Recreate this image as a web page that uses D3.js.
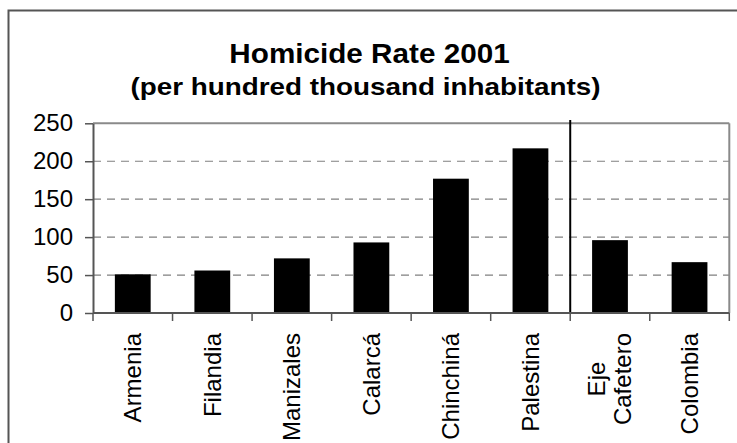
<!DOCTYPE html>
<html>
<head>
<meta charset="utf-8">
<script src="https://cdnjs.cloudflare.com/ajax/libs/d3/7.8.5/d3.min.js"></script>
<style>
  html, body { margin: 0; padding: 0; background: #fff; }
  svg { display: block; font-family: "Liberation Sans", Arial, sans-serif; }
</style>
</head>
<body>
<svg id="chart" width="737" height="443"></svg>
<script>
const categories = ["Armenia", "Filandia", "Manizales", "Calarcá", "Chinchiná", "Palestina", "Eje Cafetero", "Colombia"];
const categoryLabelLines = [["Armenia"], ["Filandia"], ["Manizales"], ["Calarcá"], ["Chinchiná"], ["Palestina"], ["Eje", "Cafetero"], ["Colombia"]];
const homicideRates = [51, 56, 72, 93, 177, 217, 96, 67];
const yTickValues = [0, 50, 100, 150, 200, 250];
const titleText = "Homicide Rate 2001";
const subtitleText = "(per hundred thousand inhabitants)";
const separatorAfter = "Palestina";

const svg = d3.select("#chart");
const plotLeft = 93, plotRight = 729.3, plotTop = 123.3, plotBottom = 313;

const x = d3.scaleBand().domain(categories).range([plotLeft, plotRight]).paddingInner(0.55).paddingOuter(0.275);
const y = d3.scaleLinear().domain([0, 250]).range([plotBottom, plotTop]);

// outer frame
svg.append("rect").attr("x", 8.5).attr("y", 10.5).attr("width", 760).attr("height", 460)
  .attr("fill", "none").attr("stroke", "#555").attr("stroke-width", 2);

// titles
svg.append("text").attr("transform", `translate(369.5,63) scale(1.06,1)`)
  .attr("text-anchor", "middle").attr("font-weight", "bold").attr("font-size", 28)
  .attr("fill", "#000").text(titleText);
svg.append("text").attr("transform", `translate(365.5,95) scale(1.16,1)`)
  .attr("text-anchor", "middle").attr("font-weight", "bold").attr("font-size", 24)
  .attr("fill", "#000").text(subtitleText);

// gridlines
svg.append("g").selectAll("line").data(yTickValues.filter(v => v > 0 && v < 250)).join("line")
  .attr("x1", plotLeft).attr("x2", plotRight).attr("y1", d => y(d)).attr("y2", d => y(d))
  .attr("stroke", "#808080").attr("stroke-width", 1.2).attr("stroke-dasharray", "8,6");

// plot frame top & right
svg.append("line").attr("x1", plotLeft).attr("x2", plotRight).attr("y1", y(250)).attr("y2", y(250))
  .attr("stroke", "#8a8a8a").attr("stroke-width", 2);
svg.append("line").attr("x1", plotRight).attr("x2", plotRight).attr("y1", y(250)).attr("y2", y(0))
  .attr("stroke", "#8a8a8a").attr("stroke-width", 2);

// bars
svg.append("g").selectAll("rect").data(categories).join("rect")
  .attr("x", d => x(d)).attr("width", x.bandwidth())
  .attr("y", (d, i) => y(homicideRates[i])).attr("height", (d, i) => y(0) - y(homicideRates[i]))
  .attr("fill", "#000");

// separator line
const sepX = x(separatorAfter) + x.bandwidth() + x.step() * x.paddingInner() / 2;
svg.append("line").attr("x1", sepX).attr("x2", sepX).attr("y1", 120).attr("y2", y(0))
  .attr("stroke", "#000").attr("stroke-width", 2);

// y axis
const yAxis = svg.append("g").attr("transform", `translate(${plotLeft},0)`)
  .call(d3.axisLeft(y).tickValues(yTickValues).tickSize(8).tickSizeOuter(0));
yAxis.select(".domain").attr("stroke", "#555").attr("stroke-width", 2);
yAxis.selectAll(".tick line").attr("stroke", "#555").attr("stroke-width", 1.5);
yAxis.selectAll(".tick text").attr("x", -20)
  .attr("font-size", 24).attr("fill", "#000").attr("font-family", "Liberation Sans, Arial, sans-serif");

// x axis line and boundary ticks
const boundaries = d3.range(categories.length + 1).map(i => plotLeft + i * x.step());
svg.append("line").attr("x1", plotLeft).attr("x2", plotRight).attr("y1", y(0)).attr("y2", y(0))
  .attr("stroke", "#555").attr("stroke-width", 2);
svg.append("g").selectAll("line").data(boundaries).join("line")
  .attr("x1", d => d).attr("x2", d => d).attr("y1", y(0)).attr("y2", y(0) + 8)
  .attr("stroke", "#555").attr("stroke-width", 1.5);

// x labels (rotated)
const labelTop = 333;
const lineGap = 26;
const labels = svg.append("g");
categories.forEach((c, i) => {
  const lines = categoryLabelLines[i];
  const cx = x(c) + x.bandwidth() / 2;
  const g = labels.append("g");
  const texts = lines.map((ln, j) => {
    const off = (j - (lines.length - 1) / 2) * lineGap;
    return g.append("text").attr("font-size", 24).attr("fill", "#000").attr("dy", "0.35em").text(ln)
      .attr("data-off", off);
  });
  const maxLen = d3.max(texts, t => t.node().getComputedTextLength());
  texts.forEach((t, j) => {
    const off = +t.attr("data-off");
    if (lines.length === 1) {
      t.attr("text-anchor", "end")
        .attr("transform", `translate(${cx + off},${labelTop}) rotate(-90)`);
    } else {
      t.attr("text-anchor", "middle")
        .attr("transform", `translate(${cx + off},${labelTop + maxLen / 2}) rotate(-90)`);
    }
  });
});
</script>
</body>
</html>
